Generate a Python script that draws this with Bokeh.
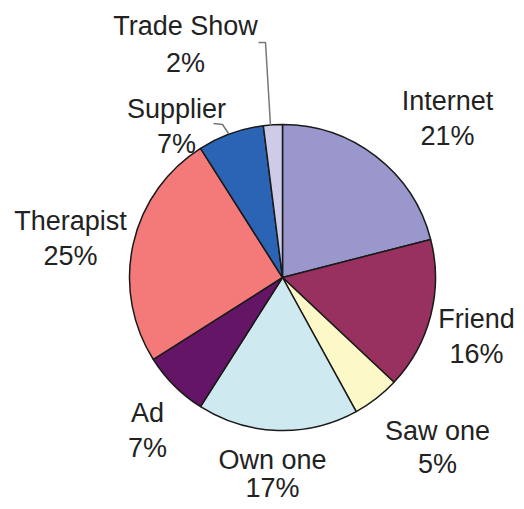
import math
from bokeh.plotting import figure
from bokeh.models import Range1d, ColumnDataSource
from bokeh.core.properties import value
from bokeh.embed import file_html
from bokeh.resources import INLINE

# ---- data ----
categories = ["Internet", "Friend", "Saw one", "Own one", "Ad", "Therapist", "Supplier", "Trade Show"]
shares = [21, 16, 5, 17, 7, 25, 7, 2]
colors = ["#9a97cd", "#98315f", "#fdf8c8", "#cfe9f1", "#651565", "#f47a7a", "#2b63b5", "#cdcbe8"]

# ---- layout (image pixel coordinates, y measured from top) ----
W, H = 516, 501
cx, cy, R = 282, 277, 153
label_pos = {
    "Internet": (447, 100, 135),
    "Friend": (476, 318, 353),
    "Saw one": (437, 430, 463),
    "Own one": (272, 459, 487),
    "Ad": (147, 412, 447),
    "Therapist": (70, 220, 255),
    "Supplier": (176, 108, 143),
    "Trade Show": (185, 25, 62),
}

def Y(y):
    return H - y

p = figure(width=W, height=H, output_backend="svg", toolbar_location=None,
           x_range=Range1d(0, W), y_range=Range1d(0, H),
           min_border=0)
p.axis.visible = False
p.grid.visible = False
p.outline_line_color = None
p.background_fill_color = "white"
p.border_fill_color = "white"

total = sum(shares)
starts, ends = [], []
cum = 0
for s in shares:
    starts.append(math.pi / 2 - 2 * math.pi * cum / total)
    cum += s
    ends.append(math.pi / 2 - 2 * math.pi * cum / total)

src = ColumnDataSource(dict(cat=categories, start=starts, end=ends, color=colors,
                            x=[cx] * len(shares), y=[Y(cy)] * len(shares)))
p.wedge(x="x", y="y", radius=R, start_angle="start", end_angle="end", direction="clock",
        fill_color="color", line_color="#1a1a1a", line_width=1.5, source=src)

# leader lines
p.line(x=[258, 265, 270], y=[Y(42), Y(42), Y(125)], line_color="#777777", line_width=1.5)
p.line(x=[213, 222, 228], y=[Y(123), Y(124), Y(133)], line_color="#777777", line_width=1.5)

names_x, names_y, pct_x, pct_y, pct_t = [], [], [], [], []
for c, s in zip(categories, shares):
    x, y1, y2 = label_pos[c]
    names_x.append(x); names_y.append(Y(y1))
    pct_x.append(x); pct_y.append(Y(y2)); pct_t.append(f"{s}%")

p.text(x=names_x, y=names_y, text=categories, text_align="center", text_baseline="middle",
       text_font=value("Liberation Sans"), text_font_size="27px", text_color="#222222")
p.text(x=pct_x, y=pct_y, text=pct_t, text_align="center", text_baseline="middle",
       text_font=value("Liberation Sans"), text_font_size="27px", text_color="#222222")

open("out.html", "w").write(file_html(p, INLINE))
